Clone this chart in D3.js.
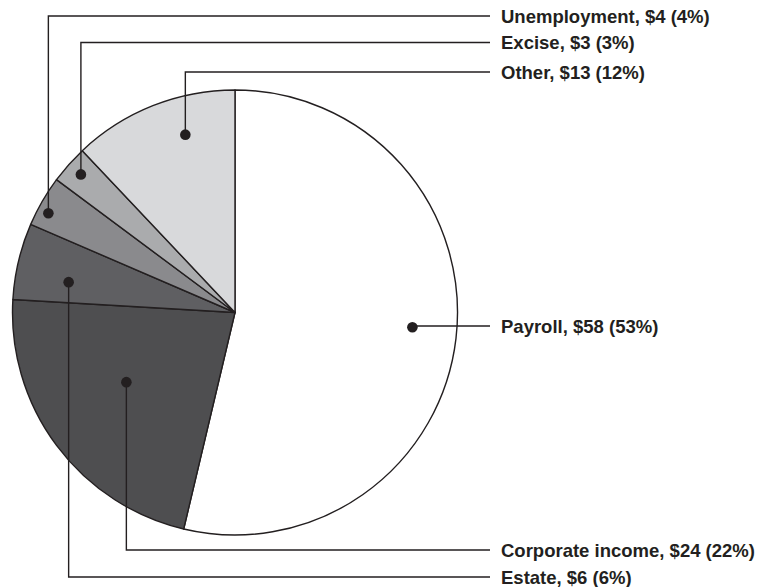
<!DOCTYPE html>
<html>
<head>
<meta charset="utf-8">
<script src="https://cdn.jsdelivr.net/npm/d3@7"></script>
<style>
  body { margin: 0; background: #fff; }
  svg { display: block; }
</style>
</head>
<body>
<div id="chart"></div>
<script>
// revenue by source, billions
var categories = ["Payroll", "Corporate income", "Estate", "Unemployment", "Excise", "Other"];
var values = [58, 24, 6, 4, 3, 13];
var percents = [53, 22, 6, 4, 3, 12];
var fills = ["#ffffff", "#4e4e50", "#5f5f62", "#8a8a8d", "#aaabad", "#d8d9db"];

// where the dot sits inside its slice (share of slice angle, share of radius)
// and the row the label goes to
var leader = {
  "Payroll":          {t: 0.49, r: 0.80, labelY: 326},
  "Corporate income": {t: 0.55, r: 0.58, labelY: 550},
  "Estate":           {t: 0.35, r: 0.76, labelY: 577},
  "Unemployment":     {t: 0.35, r: 0.95, labelY: 16},
  "Excise":           {t: 0.52, r: 0.93, labelY: 42.5},
  "Other":            {t: 0.64, r: 0.83, labelY: 72}
};

var width = 760, height = 587;
var cx = 235, cy = 312.5, radius = 222.5;
var lineEnd = 490, textX = 501;
var ink = "#231f20";

var data = categories.map(function(c, i) {
  return {name: c, value: values[i], pct: percents[i], fill: fills[i]};
});

var svg = d3.select("#chart")
  .append("svg")
    .attr("width", width)
    .attr("height", height);

var pie = d3.pie()
  .sort(null)
  .value(function(d) { return d.value; });

var arc = d3.arc()
  .innerRadius(0)
  .outerRadius(radius);

var arcs = pie(data);

var g = svg.append("g")
  .attr("transform", "translate(" + cx + "," + cy + ")");

g.selectAll("path")
  .data(arcs)
  .enter()
  .append("path")
    .attr("d", arc)
    .style("fill", function(d) { return d.data.fill; })
    .style("stroke", ink)
    .style("stroke-width", 1.4)
    .style("stroke-linejoin", "round");

function dotPos(d) {
  var L = leader[d.data.name];
  var a = d.startAngle + (d.endAngle - d.startAngle) * L.t;
  var r = radius * L.r;
  return [cx + Math.sin(a) * r, cy - Math.cos(a) * r];
}

// leader lines
svg.selectAll("path.leader")
  .data(arcs)
  .enter()
  .append("path")
    .attr("class", "leader")
    .attr("d", function(d) {
      var p = dotPos(d);
      var y = leader[d.data.name].labelY;
      if (Math.abs(p[1] - y) < 1) return "M" + p[0] + "," + p[1] + "H" + lineEnd;
      return "M" + p[0] + "," + p[1] + "V" + y + "H" + lineEnd;
    })
    .style("fill", "none")
    .style("stroke", ink)
    .style("stroke-width", 1.4);

svg.selectAll("circle")
  .data(arcs)
  .enter()
  .append("circle")
    .attr("cx", function(d) { return dotPos(d)[0]; })
    .attr("cy", function(d) { return dotPos(d)[1]; })
    .attr("r", 5.3)
    .style("fill", ink);

svg.selectAll("text")
  .data(arcs)
  .enter()
  .append("text")
    .attr("x", textX)
    .attr("y", function(d) { return leader[d.data.name].labelY + 6.6; })
    .text(function(d) { return d.data.name + ", $" + d.data.value + " (" + d.data.pct + "%)"; })
    .attr("font-family", "'Liberation Sans', Arial, Helvetica, sans-serif")
    .attr("font-weight", "bold")
    .attr("font-size", "18.5px")
    .attr("fill", ink);
</script>
</body>
</html>
